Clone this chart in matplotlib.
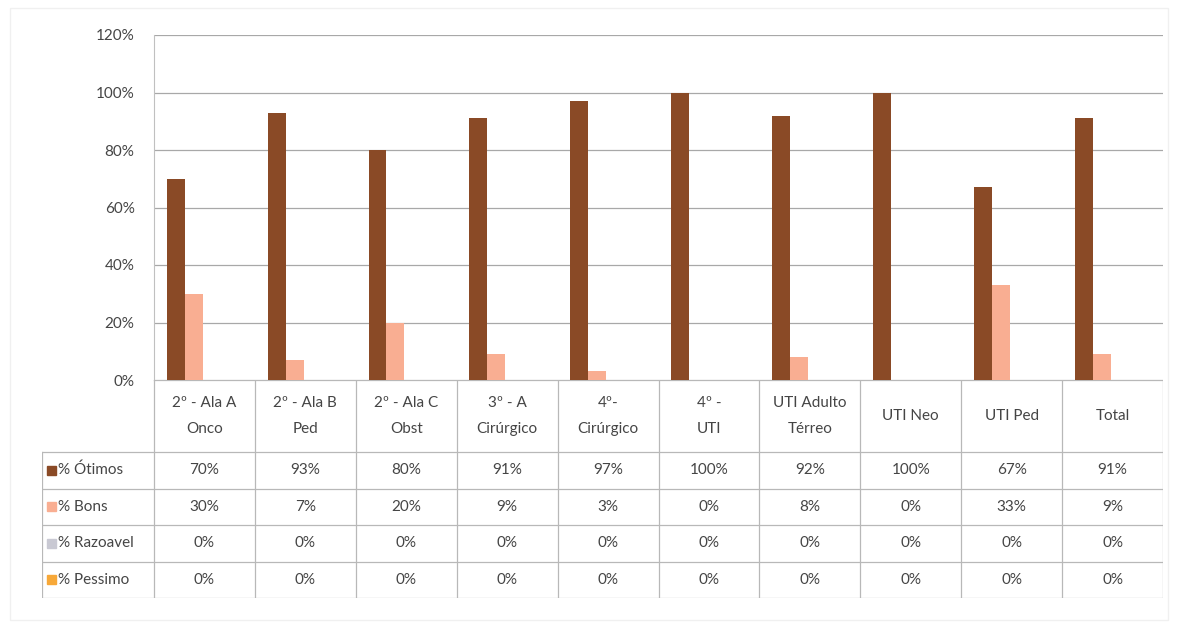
import matplotlib
matplotlib.use("Agg")
import matplotlib.pyplot as plt
from matplotlib.patches import Rectangle

categories = ["2º - Ala A\nOnco", "2º - Ala B\nPed", "2º - Ala C\nObst", "3º - A\nCirúrgico",
              "4º-\nCirúrgico", "4º -\nUTI", "UTI Adulto\nTérreo", "UTI Neo", "UTI Ped", "Total"]
series_names = ["% Ótimos", "% Bons", "% Razoavel", "% Pessimo"]
otimos = [70, 93, 80, 91, 97, 100, 92, 100, 67, 91]
bons = [30, 7, 20, 9, 3, 0, 8, 0, 33, 9]
razoavel = [0, 0, 0, 0, 0, 0, 0, 0, 0, 0]
pessimo = [0, 0, 0, 0, 0, 0, 0, 0, 0, 0]
y_ticks = [0, 20, 40, 60, 80, 100, 120]

series = [otimos, bons, razoavel, pessimo]
colors = ["#8a4a26", "#f9ae92", "#c9c9d3", "#f7a838"]

plt.rcParams['font.family'] = ['Lato', 'DejaVu Sans']
W, H = 1180, 626
fig = plt.figure(figsize=(W / 100, H / 100), dpi=100)
fig.patch.set_facecolor("white")

def fx(px):
    return px / W

def fy(py):
    return 1 - py / H

# faint outer frame
fig.add_artist(Rectangle((fx(10), fy(620)), fx(1168) - fx(10), fy(8) - fy(620),
                         transform=fig.transFigure, fill=False, edgecolor="#f0f0f0", lw=1))

text_col = "#454545"
grid_col = "#a8a8a8"
fs = 11

# plot area
x0, x1 = 154, 1163
ytop, ybot = 35, 380
ax = fig.add_axes([fx(x0), fy(ybot), fx(x1) - fx(x0), fy(ytop) - fy(ybot)])
n = len(categories)
bw = 0.178
for i, (vals, c) in enumerate(zip(series, colors)):
    xs = [k + (i - 1.6) * bw for k in range(n)]
    ax.bar(xs, vals, width=bw, color=c, edgecolor="none", zorder=3)
ax.set_xlim(-0.5, n - 0.5)
ax.set_ylim(0, 120)
ax.set_yticks(y_ticks)
ax.set_yticklabels([f"{v}%" for v in y_ticks], fontsize=fs, color=text_col)
ax.set_xticks([])
ax.grid(axis="y", color=grid_col, lw=0.9, zorder=0)
for s in ["top", "right", "bottom"]:
    ax.spines[s].set_visible(False)
ax.spines["left"].set_color("#c0c0c0")
ax.tick_params(axis="y", length=0, pad=14)

# table
tleft, tbot = 42, 598
leg_w = (x0 - tleft) / ((x1 - x0) / n)
tax = fig.add_axes([fx(tleft), fy(tbot), fx(x1) - fx(tleft), fy(ybot) - fy(tbot)])
total_h = tbot - ybot
tax.set_xlim(-0.5 - leg_w, n - 0.5)
tax.set_ylim(total_h, 0)
tax.axis("off")
header_h = 72
row_h = (total_h - header_h) / 4
line_col = "#b8b8b8"
for k in range(n + 1):
    tax.plot([k - 0.5, k - 0.5], [0, total_h], color=line_col, lw=0.9)
tax.plot([-0.5 - leg_w, -0.5 - leg_w], [header_h, total_h], color=line_col, lw=0.9)
tax.plot([-0.5, n - 0.5], [0, 0], color=line_col, lw=0.9)
for r in range(5):
    yy = header_h + r * row_h
    tax.plot([-0.5 - leg_w, n - 0.5], [yy, yy], color=line_col, lw=0.9)
for k, cat in enumerate(categories):
    tax.text(k, header_h / 2, cat, ha="center", va="center", fontsize=fs,
             color=text_col, linespacing=2.1)
for r, (name, vals, c) in enumerate(zip(series_names, series, colors)):
    yc = header_h + (r + 0.5) * row_h
    tax.add_patch(Rectangle((-0.5 - leg_w + 0.05, yc - 4.5), 0.09, 9, color=c))
    tax.text(-0.5 - leg_w + 0.155, yc, name, ha="left", va="center", fontsize=fs, color=text_col)
    for k, v in enumerate(vals):
        tax.text(k, yc, f"{v}%", ha="center", va="center", fontsize=fs, color=text_col)

fig.savefig("out.png", dpi=100)
